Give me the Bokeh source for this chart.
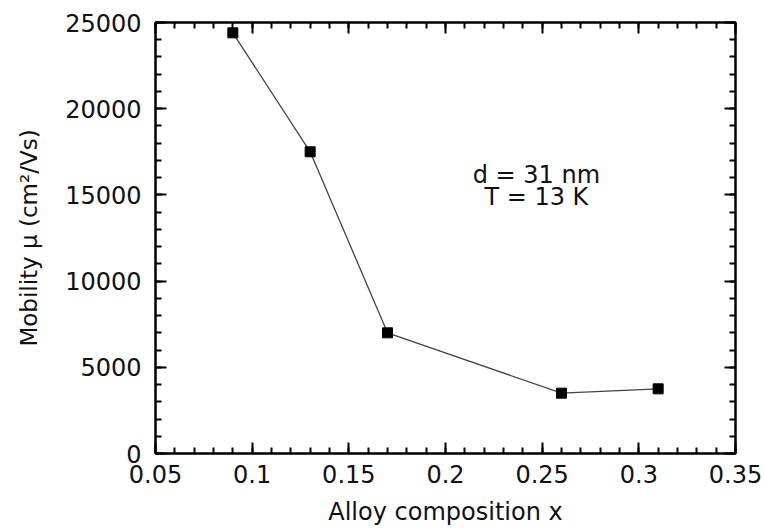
from bokeh.plotting import figure
from bokeh.models import (LinearAxis, FixedTicker, Range1d, Label,
                          CustomJSTickFormatter)
from bokeh.embed import file_html
from bokeh.resources import INLINE

# Hall mobility vs. alloy composition (d = 31 nm, T = 13 K)
composition = [0.09, 0.13, 0.17, 0.26, 0.31]
mobility = [24400, 17500, 7000, 3500, 3750]

x_ticks = [0.05, 0.10, 0.15, 0.20, 0.25, 0.30, 0.35]
x_minor = [round(0.05 + 0.01 * i, 2) for i in range(31)]
y_ticks = [0, 5000, 10000, 15000, 20000, 25000]
y_minor = [1000 * i for i in range(26)]

x_label = "Alloy composition x"
y_label = "Mobility μ (cm²/Vs)"
notes = ["d = 31 nm", "T = 13 K"]

FONT = "DejaVu Sans"
INK = "#111111"

p = figure(width=766, height=532, output_backend="svg", toolbar_location=None,
           x_range=Range1d(0.05, 0.35), y_range=Range1d(0, 25000),
           min_border_left=155, min_border_right=31, min_border_top=22,
           min_border_bottom=79, background_fill_color="white",
           border_fill_color="white")
p.xaxis.visible = False
p.yaxis.visible = False
p.grid.visible = False
p.outline_line_color = "black"
p.outline_line_width = 2

blank = CustomJSTickFormatter(code="return ''")


def style(axis):
    axis.axis_line_width = 2
    axis.major_tick_line_width = 2
    axis.minor_tick_line_width = 2
    axis.major_tick_in = 11
    axis.major_tick_out = 0
    axis.minor_tick_in = 6
    axis.minor_tick_out = 0
    axis.major_label_text_font = FONT
    axis.major_label_text_font_size = "24px"
    axis.major_label_text_color = INK
    axis.axis_label_text_font = FONT
    axis.axis_label_text_font_size = "23px"
    axis.axis_label_text_font_style = "normal"
    axis.axis_label_text_color = INK


def xticker():
    return FixedTicker(ticks=x_ticks, minor_ticks=x_minor)


def yticker():
    return FixedTicker(ticks=y_ticks, minor_ticks=y_minor)


xb = LinearAxis(ticker=xticker(), axis_label=x_label,
                major_label_overrides={0.1: "0.1", 0.2: "0.2", 0.3: "0.3"})
style(xb)
xb.major_label_standoff = 11
xb.axis_label_standoff = 12
xb.axis_label_text_font_size = "24px"
p.add_layout(xb, "below")

yl = LinearAxis(ticker=yticker(), axis_label=y_label)
style(yl)
yl.major_label_standoff = 14
yl.axis_label_standoff = 20
p.add_layout(yl, "left")

xa = LinearAxis(ticker=xticker(), formatter=blank)
style(xa)
xa.major_label_standoff = 0
p.add_layout(xa, "above")

yr = LinearAxis(ticker=yticker(), formatter=blank)
style(yr)
yr.major_label_standoff = 0
p.add_layout(yr, "right")

p.line(composition, mobility, line_color="#444444", line_width=1.3)
p.scatter(composition, mobility, marker="square", size=10,
          fill_color="black", line_color="black")

for text, yv in zip(notes, [16180, 14850]):
    p.add_layout(Label(x=0.247, y=yv, text=text, text_align="center",
                       text_baseline="middle", text_font=FONT,
                       text_font_size="24px", text_color=INK))

open("out.html", "w").write(file_html(p, INLINE))
